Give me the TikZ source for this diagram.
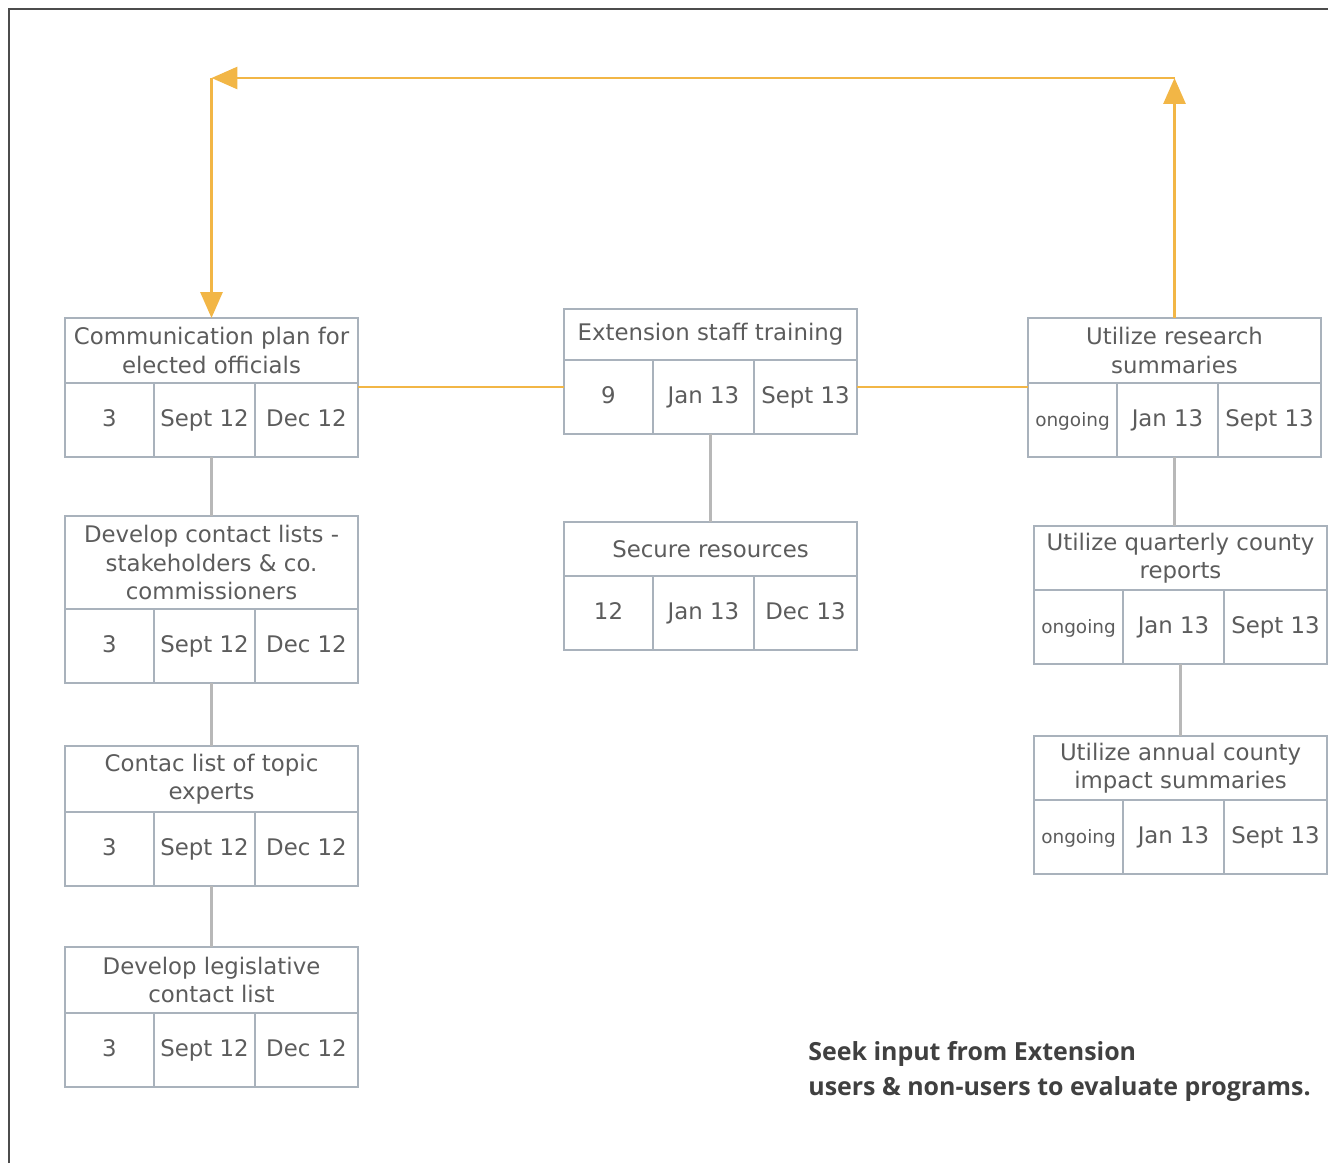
\documentclass[tikz,border=0pt]{standalone}
\usepackage{fontspec}
\setmainfont{DejaVu Sans}
\newfontfamily\notefont{Open Sans}
\usetikzlibrary{arrows.meta,positioning,calc}
\definecolor{boxline}{HTML}{A9B2BC}
\definecolor{txtgray}{HTML}{5C5C5C}
\definecolor{linkgray}{HTML}{B8B8B8}
\definecolor{flowyellow}{HTML}{F2B646}
\def\px{0.02cm}
\newcommand{\smalltxt}{\fontsize{10.5}{12}\selectfont}
% one task: title row and three cells (effort, start, end)
\newcommand{\taskbox}[8]{%
  \node (#1) [title,minimum height=#4*\px] at (#2,#3) {#5};
  \node (#1-1) [cell,minimum width=89*\px] at (#1.south west) {#6};
  \node (#1-2) [cell,minimum width=101*\px] at (#1-1.north east) {#7};
  \node (#1-3) [cell,minimum width=103*\px] at (#1-2.north east) {#8};
  \coordinate (#1-bot) at (#1.south |- #1-1.south);
}
\begin{document}
\begin{tikzpicture}
[x=0.02cm,y=-0.02cm,
%
title/.style={draw=boxline,line width=1.1pt,anchor=north west,minimum width=293*\px,
  inner sep=0pt,outer sep=0pt,align=center,text=txtgray,font=\fontsize{13}{16}\selectfont},
cell/.style={draw=boxline,line width=1.1pt,anchor=north west,minimum height=74*\px,
  inner sep=0pt,outer sep=0pt,text height=1.75ex,text depth=0.4ex,
  text=txtgray,font=\fontsize{13}{16}\selectfont},
%
link/.style={draw=linkgray,line width=1.2pt},
side/.style={draw=flowyellow,line width=1.2pt},
flow/.style={draw=flowyellow,line width=1.7pt,-{Triangle[length=0.52cm,width=0.44cm]}},
frame/.style={draw=black!70,line width=1.4pt},
note/.style={anchor=north west,align=left,text=black!75,inner sep=0pt,
  font=\notefont\bfseries\fontsize{14.2}{19.9}\selectfont}]
%
\useasboundingbox (0,0) rectangle (1328,1163);
\draw[frame] (9,1163) -- (9,9) -- (1328,9);
%
%% left column
\taskbox{l1}{65}{318}{65}{Communication plan for\\elected officials}{3}{Sept 12}{Dec 12}
\taskbox{l2}{65}{516}{93}{Develop contact lists -\\stakeholders \& co.\\commissioners}{3}{Sept 12}{Dec 12}
\taskbox{l3}{65}{746}{66}{Contac list of topic\\experts}{3}{Sept 12}{Dec 12}
\taskbox{l4}{65}{947}{66}{Develop legislative\\contact list}{3}{Sept 12}{Dec 12}
%
%% middle column
\taskbox{m1}{564}{309}{51}{Extension staff training}{9}{Jan 13}{Sept 13}
\taskbox{m2}{564}{522}{54}{Secure resources}{12}{Jan 13}{Dec 13}
%
%% right column
\taskbox{r1}{1028}{318}{65}{Utilize research\\summaries}{\smalltxt ongoing}{Jan 13}{Sept 13}
\taskbox{r2}{1034}{526}{64}{Utilize quarterly county\\reports}{\smalltxt ongoing}{Jan 13}{Sept 13}
\taskbox{r3}{1034}{736}{64}{Utilize annual county\\impact summaries}{\smalltxt ongoing}{Jan 13}{Sept 13}
%
%% grey links inside columns
\draw[link] (l1-bot) -- (l2.north);
\draw[link] (l2-bot) -- (l3.north);
\draw[link] (l3-bot) -- (l4.north);
\draw[link] (m1-bot) -- (m2.north);
\draw[link] (r1-bot) -- (r1-bot |- r2.north);
\draw[link] (r2-bot) -- (r2-bot |- r3.north);
%
%% yellow links between columns
\draw[side] (l1-3.east |- 0,387) -- (m1-1.west |- 0,387);
\draw[side] (m1-3.east |- 0,387) -- (r1-1.west |- 0,387);
%
%% feedback loop over the top
\coordinate (rc) at (r1.north |- 0,78);
\coordinate (lc) at (l1.north |- 0,78);
\draw[flow] (r1.north) -- (rc);
\draw[flow] (rc) -- (lc);
\draw[flow] (lc) -- (l1.north);
%
\node (note) [note] at (808,1041) {Seek input from Extension\\users \& non-users to evaluate programs.};
\end{tikzpicture}
\end{document}
